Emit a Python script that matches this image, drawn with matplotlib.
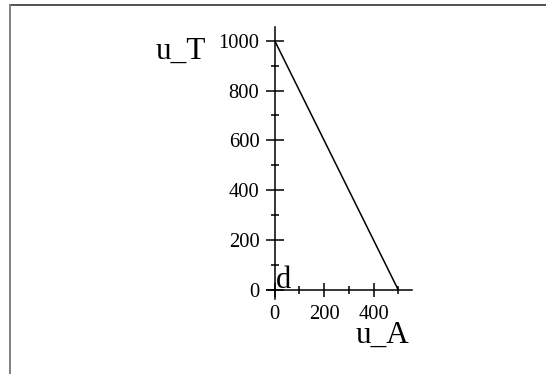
import matplotlib
matplotlib.use("Agg")
import matplotlib.pyplot as plt
from matplotlib.lines import Line2D
from matplotlib.ticker import MultipleLocator

# Budget line: u_T against u_A
u_A = [0, 500]
u_T = [1000, 0]

x_major = [0, 200, 400]
y_major = [0, 200, 400, 600, 800, 1000]

W, H = 546, 374
DPI = 100
plt.rcParams["font.family"] = ["Liberation Serif", "DejaVu Serif"]

fig = plt.figure(figsize=(W / DPI, H / DPI), dpi=DPI)

# axes placed in pixel units so both axes share one scale
sx, sy = 0.2472, 0.2493
xlim = (-31, 555)
ylim = (-36, 1055)
x0_px, y0_px = 274.7, H - 290.0
left = x0_px + xlim[0] * sx
bottom = y0_px + ylim[0] * sy
width = (xlim[1] - xlim[0]) * sx
height = (ylim[1] - ylim[0]) * sy
ax = fig.add_axes([left / W, bottom / H, width / W, height / H])
ax.patch.set_alpha(0)

ax.plot(u_A, u_T, color="black", lw=1.1, solid_capstyle="butt")
ax.set_xlim(*xlim)
ax.set_ylim(*ylim)

for s in ("top", "right"):
    ax.spines[s].set_visible(False)
for s in ("left", "bottom"):
    ax.spines[s].set_position(("data", 0))
    ax.spines[s].set_linewidth(1.1)

ax.set_xticks(x_major)
ax.set_yticks(y_major)
ax.xaxis.set_minor_locator(MultipleLocator(100))
ax.yaxis.set_minor_locator(MultipleLocator(100))
ax.tick_params(axis="y", which="major", direction="inout", length=13, width=1.1,
               labelsize=14.8, pad=4.5)
ax.tick_params(axis="x", which="major", direction="inout", length=10, width=1.1,
               labelsize=14.8, pad=5.5)
ax.tick_params(axis="both", which="minor", direction="inout", length=6, width=1.1)

# axis names and region label
def ptext(x, y, s, size):
    fig.text(x / W, 1 - y / H, s, fontsize=size, ha="left", va="baseline")

ptext(156, 58.3, "u_T", 22.5)
ptext(356, 342.5, "u_A", 22.5)
ptext(276, 287.7, "d", 22)

# frame lines along the top and left edge
fig.add_artist(Line2D([9.5 / W, 1], [1 - 4.5 / H, 1 - 4.5 / H], color="#333333", lw=1.2,
                      transform=fig.transFigure))
fig.add_artist(Line2D([9.8 / W, 9.8 / W], [1 - 4.5 / H, 0], color="#808080", lw=1.4,
                      transform=fig.transFigure))

fig.savefig("out.png", dpi=DPI)
